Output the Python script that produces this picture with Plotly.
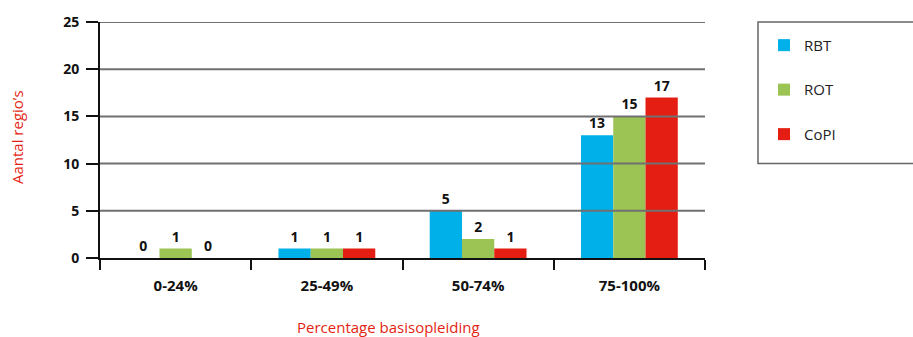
import plotly.graph_objects as go

categories = ["0-24%", "25-49%", "50-74%", "75-100%"]
series_names = ["RBT", "ROT", "CoPI"]
rbt = [0, 1, 5, 13]
rot = [1, 1, 2, 15]
copi = [0, 1, 1, 17]
colors = ["#00b0e8", "#9bc454", "#e41e13"]
y_ticks = [0, 5, 10, 15, 20, 25]

fig = go.Figure()
for name, vals, col in zip(series_names, [rbt, rot, copi], colors):
    fig.add_trace(go.Bar(
        x=categories, y=vals, name=name, legendgroup=name,
        marker=dict(color=col, line=dict(width=0)),
        text=[str(v) for v in vals], textposition="outside",
        textfont=dict(family="Open Sans", size=14, color="#111111", weight="bold"),
        cliponaxis=False,
    ))

shapes = []
for t in y_ticks[1:]:
    shapes.append(dict(type="line", xref="paper", yref="y", x0=0, x1=1, y0=t, y1=t,
                       line=dict(color="#707070", width=2), layer="above"))
# legend box
shapes.append(dict(type="rect", xref="paper", yref="paper",
                   x0=(758 - 100) / 605, x1=1.5, y0=(258 - 162) / 240, y1=1.0,
                   line=dict(color="#666666", width=1.5), fillcolor="rgba(0,0,0,0)"))

fig.update_layout(
    width=913, height=337,
    margin=dict(l=100, r=208, t=17, b=79),
    plot_bgcolor="white", paper_bgcolor="white",
    barmode="group", bargap=0.36, bargroupgap=0,
    font=dict(family="Open Sans", color="#111111"),
    showlegend=True,
    legend=dict(x=(764 - 100) / 605, y=(258 - 25) / 240, xanchor="left", yanchor="top",
                font=dict(family="Open Sans", size=15, color="#222222"),
                tracegroupgap=22, traceorder="grouped", borderwidth=0,
                bgcolor="rgba(0,0,0,0)", itemsizing="constant"),
    shapes=shapes,
    annotations=[
        dict(text="Percentage basisopleiding", xref="paper", yref="paper",
             x=(388 - 100) / 605, y=(258 - 328) / 240, xanchor="center", yanchor="middle",
             showarrow=False, font=dict(family="Open Sans", size=15, color="#e41e13")),
        dict(text="Aantal regio’s", xref="paper", yref="paper",
             x=(17 - 100) / 605, y=(258 - 135) / 240, xanchor="center", yanchor="middle",
             textangle=-90, showarrow=False,
             font=dict(family="Open Sans", size=15, color="#e41e13")),
    ],
)

fig.update_xaxes(
    type="category", showline=True, linecolor="#111111", linewidth=2,
    ticks="outside", tickson="boundaries", ticklen=10, tickwidth=2, tickcolor="#111111",
    tickfont=dict(family="Open Sans", size=15, color="#111111", weight="bold"),
    showgrid=False, zeroline=False, ticklabelstandoff=13,
)
fig.update_yaxes(
    range=[0, 25], tickvals=y_ticks, showline=True, linecolor="#111111", linewidth=2,
    ticks="outside", ticklen=12, tickwidth=2, tickcolor="#111111",
    tickfont=dict(family="Open Sans", size=14, color="#111111", weight="bold"),
    showgrid=False, zeroline=False, ticklabelstandoff=4,
)

fig.write_html("out.html")
